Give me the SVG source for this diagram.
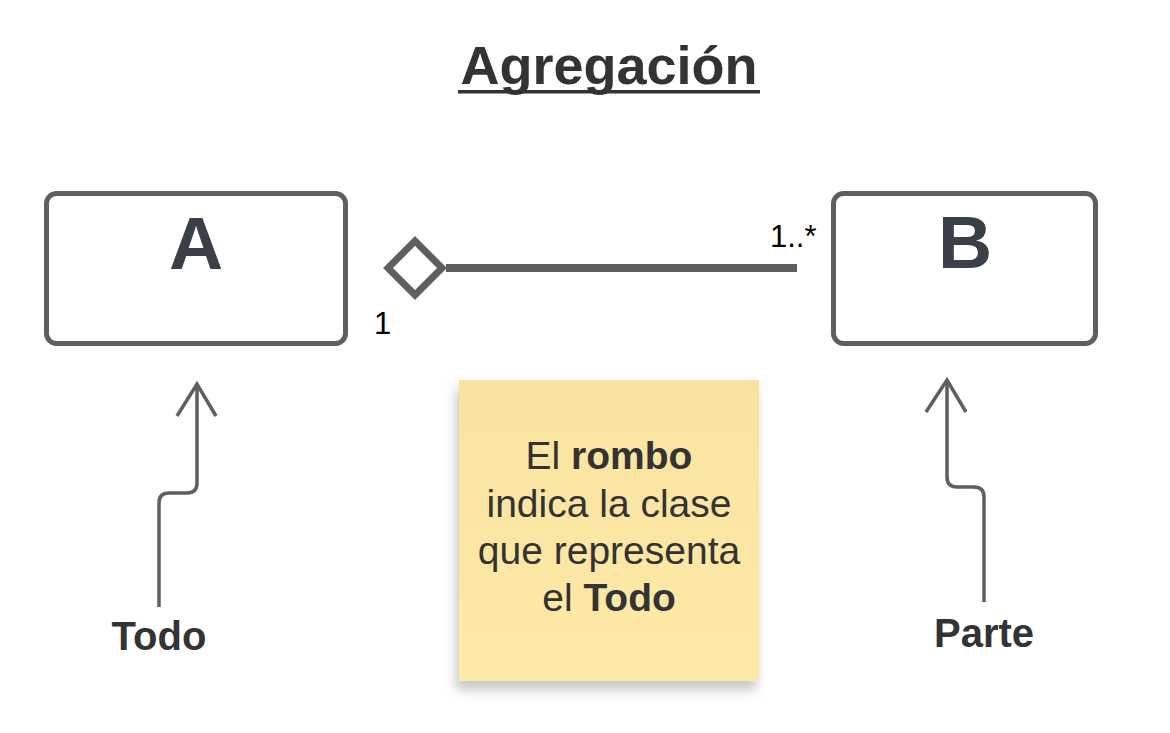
<svg xmlns="http://www.w3.org/2000/svg" width="1170" height="733" viewBox="0 0 1170 733">
  <defs>
    <linearGradient id="noteGrad" x1="0" y1="0" x2="0" y2="1">
      <stop offset="0" stop-color="#f8e3a0"/>
      <stop offset="1" stop-color="#feeaa6"/>
    </linearGradient>
    <filter id="noteShadow" x="-20%" y="-20%" width="140%" height="140%">
      <feDropShadow dx="-3" dy="9" stdDeviation="6" flood-color="#000" flood-opacity="0.22"/>
    </filter>
  </defs>
  <style>
    .box { fill: #ffffff; stroke: #5f5f5f; stroke-width: 5; }
    .cls { font-family: "Liberation Sans", Arial, sans-serif; font-weight: bold; font-size: 75px; fill: #3a3f48; text-anchor: middle; }
    .mult { font-family: "Liberation Sans", Arial, sans-serif; font-size: 31px; fill: #000; }
    .lbl { font-family: "Liberation Sans", Arial, sans-serif; font-weight: bold; font-size: 40px; fill: #333333; text-anchor: middle; }
    .note { font-family: "Liberation Sans", Arial, sans-serif; font-size: 39px; fill: #333333; text-anchor: middle; }
    .conn { fill: none; stroke: #5f5f5f; }
  </style>
  <rect width="1170" height="733" fill="#ffffff"/>

  <g id="title">
    <text x="609" y="84" font-family="Liberation Sans, Arial, sans-serif" font-weight="bold" font-size="54" fill="#333333" text-anchor="middle">Agregación</text>
    <rect x="458" y="90" width="302" height="3.5" fill="#333333"/>
  </g>

  <g id="nodeA">
    <rect class="box" x="46.5" y="193.5" width="299" height="150" rx="10"/>
    <text class="cls" x="196" y="269">A</text>
  </g>

  <g id="nodeB">
    <rect class="box" x="833.5" y="193.5" width="262" height="150" rx="10"/>
    <text class="cls" x="965" y="268">B</text>
  </g>

  <g id="connectors">
    <line class="conn" x1="446" y1="268" x2="797" y2="268" stroke-width="8"/>
    <path class="conn" d="M388,268 L415,241 L442,268 L415,295 Z" stroke-width="7" fill="#ffffff"/>
    <path class="conn" stroke-width="3.5" d="M159,607 V503 Q159,493 169,493 H187 Q197,493 197,483 V385"/>
    <path class="conn" stroke-width="3.5" d="M177,416 L197,384 L216,416"/>
    <path class="conn" stroke-width="3.5" d="M984,602 V497 Q984,487 974,487 H957 Q947,487 947,477 V382"/>
    <path class="conn" stroke-width="3.5" d="M926,412 L947,380 L966,412"/>
  </g>

  <g id="multiplicities">
    <text class="mult" x="374" y="334">1</text>
    <text class="mult" x="770" y="247">1..*</text>
  </g>

  <g id="labelTodo">
    <text class="lbl" x="159" y="650">Todo</text>
  </g>
  <g id="labelParte">
    <text class="lbl" x="984" y="647">Parte</text>
  </g>

  <g id="note">
    <rect x="459" y="380" width="300" height="301" fill="url(#noteGrad)" filter="url(#noteShadow)"/>
    <text class="note" x="609" y="469">El <tspan font-weight="bold">rombo</tspan></text>
    <text class="note" x="609" y="517">indica la clase</text>
    <text class="note" x="609" y="564">que representa</text>
    <text class="note" x="609" y="611">el <tspan font-weight="bold">Todo</tspan></text>
  </g>
</svg>
